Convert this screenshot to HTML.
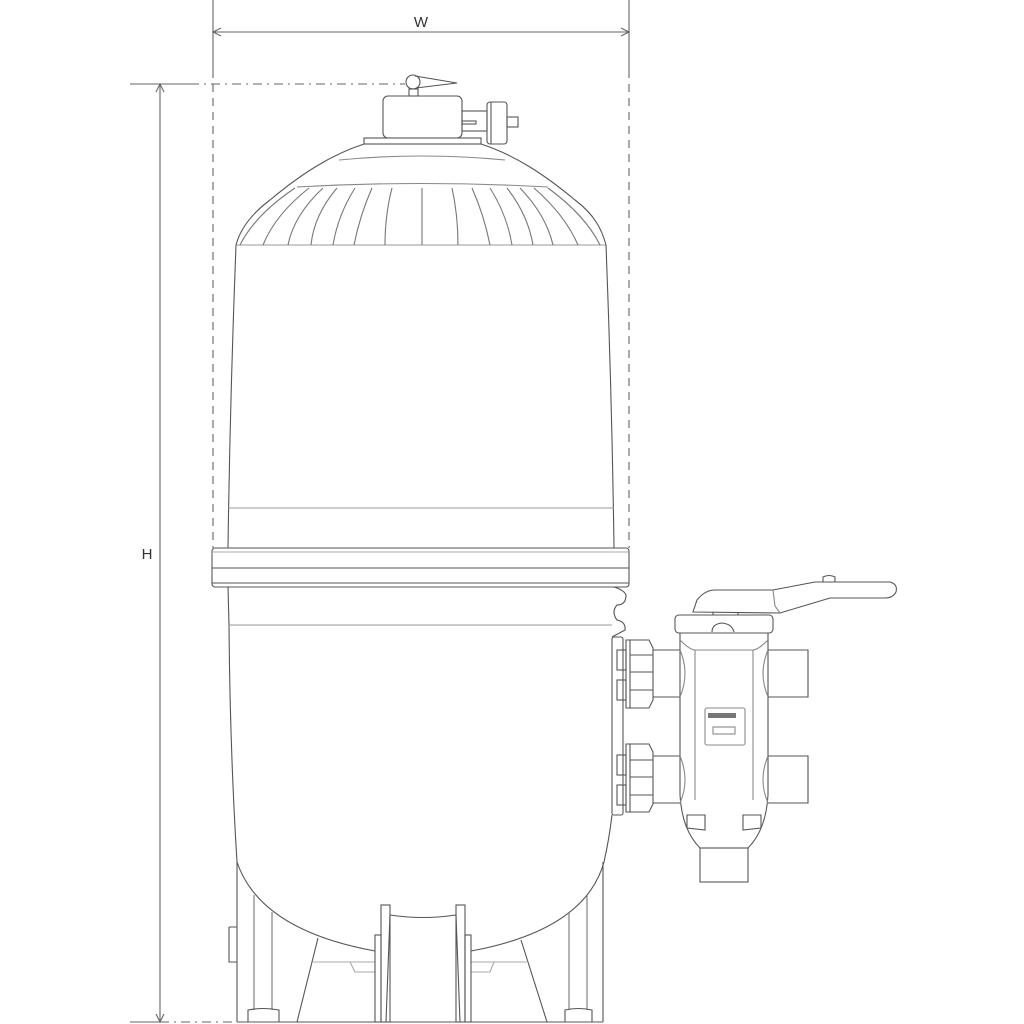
<!DOCTYPE html>
<html><head><meta charset="utf-8"><style>
html,body{margin:0;padding:0;background:#fff;width:1024px;height:1024px;overflow:hidden}
svg{display:block}
text{font-family:"Liberation Sans",sans-serif}
</style></head><body>
<svg width="1024" height="1024" viewBox="0 0 1024 1024" xmlns="http://www.w3.org/2000/svg" fill="none" stroke="#555" stroke-width="1.1">
<!-- dimension lines -->
<g stroke="#666">
<line x1="213" y1="0" x2="213" y2="70"/>
<line x1="213" y1="70" x2="213" y2="548" stroke-dasharray="8,6"/>
<line x1="629" y1="0" x2="629" y2="70"/>
<line x1="629" y1="70" x2="629" y2="548" stroke-dasharray="8,6"/>
<line x1="213" y1="32" x2="629" y2="32"/>
<polyline points="221,28 213,32 221,36"/>
<polyline points="621,28 629,32 621,36"/>
<line x1="130" y1="84" x2="190" y2="84"/>
<line x1="190" y1="84" x2="405" y2="84" stroke-dasharray="9,5,2,5"/>
<line x1="130" y1="1022" x2="160" y2="1022"/>
<line x1="160" y1="1022" x2="237" y2="1022" stroke-dasharray="9,5,2,5"/>
<line x1="160" y1="84" x2="160" y2="1022"/>
<polyline points="156,92 160,84 164,92"/>
<polyline points="156,1014 160,1022 164,1014"/>
</g>
<text x="421" y="27" font-size="15" fill="#333" stroke="none" text-anchor="middle">W</text>
<text x="147" y="559" font-size="15" fill="#333" stroke="none" text-anchor="middle">H</text>

<!-- top knob -->
<circle cx="413" cy="82" r="7"/>
<path d="M415,76 L457,83 L416,88"/>
<rect x="409" y="89" width="9" height="7"/>
<rect x="383" y="96" width="79" height="42" rx="5"/>
<rect x="462" y="111" width="25" height="20"/>
<rect x="462" y="121" width="14" height="3"/>
<rect x="487" y="102" width="20" height="42" rx="3"/>
<line x1="491" y1="102" x2="491" y2="144"/>
<rect x="507" y="117" width="11" height="10"/>
<rect x="364" y="138" width="117" height="6"/>
<!-- dome -->
<path d="M364,144 C330,155 300,175 270,200 C250,215 240,230 236,245"/>
<path d="M481,144 C515,155 545,175 575,200 C595,215 602,230 606,245"/>
<path d="M339,160 Q422,152 505,160" stroke="#888"/>
<path d="M297,187 Q422,180 548,187" stroke="#888"/>
<line x1="236" y1="245" x2="606" y2="245" stroke="#999"/>
<g stroke="#777">
<path d="M295,188 Q255,215 240,245"/><path d="M309,188 Q275,215 263,245"/><path d="M323,188 Q294,215 288,245"/>
<path d="M337,188 Q314,215 311,245"/><path d="M355,188 Q338,215 333,245"/><path d="M372,188 Q360,215 354,245"/>
<path d="M392,188 Q385,215 385,245"/><line x1="422" y1="188" x2="422" y2="245"/>
<path d="M452,188 Q458,215 458,245"/><path d="M472,188 Q484,215 490,245"/><path d="M490,188 Q507,215 512,245"/>
<path d="M507,188 Q528,215 533,245"/><path d="M520,188 Q546,215 553,245"/><path d="M534,188 Q565,215 578,245"/>
<path d="M548,188 Q585,215 600,245"/>
</g>
<!-- upper body -->
<path d="M236,245 Q230,400 228,548"/>
<path d="M606,245 Q612,400 614,548"/>
<line x1="228" y1="508" x2="614" y2="508" stroke="#999"/>
<!-- band -->
<rect x="212" y="548" width="417" height="39" rx="3"/>
<line x1="212" y1="552" x2="629" y2="552" stroke="#aaa"/>
<line x1="212" y1="568" x2="629" y2="568"/>
<line x1="212" y1="583" x2="629" y2="583"/>
<!-- lower body -->
<path d="M228,587 L229,625 Q230,750 237,862"/>
<path d="M614,587 Q624,590 626,595 Q626,605 617,605 Q611,612 617,620 Q626,622 625,630 L612,637"/>
<line x1="229" y1="625" x2="612" y2="625" stroke="#999"/>
<path d="M612,815 Q609,840 604,862"/>
<path d="M237,862 Q260,930 375,951"/>
<path d="M604,862 Q585,930 471,951"/>
<!-- legs -->
<line x1="237" y1="862" x2="237" y2="1022"/>
<line x1="254" y1="895" x2="254" y2="1010" stroke="#777"/>
<line x1="272" y1="912" x2="272" y2="1010" stroke="#777"/>
<path d="M248,1022 L248,1010 Q263,1007 279,1010 L279,1022"/>
<line x1="318" y1="938" x2="297" y2="1022"/>
<path d="M229,927 L237,927 M229,927 L229,962 L237,962"/>
<line x1="603" y1="862" x2="603" y2="1022"/>
<line x1="587" y1="895" x2="587" y2="1010" stroke="#777"/>
<line x1="569" y1="912" x2="569" y2="1010" stroke="#777"/>
<path d="M565,1022 L565,1010 Q578,1007 592,1010 L592,1022"/>
<line x1="521" y1="940" x2="547" y2="1022"/>
<line x1="237" y1="1022" x2="603" y2="1022"/>
<g stroke="#aaa">
<path d="M313,962 L375,962 M350,962 L355,972 L375,972"/>
<path d="M471,962 L528,962 M494,962 L490,972 L471,972"/>
</g>
<!-- center pump piece -->
<rect x="381" y="905" width="9" height="117"/>
<rect x="375" y="935" width="6" height="87"/>
<rect x="456" y="905" width="9" height="117"/>
<rect x="465" y="935" width="6" height="87"/>
<path d="M390,915 Q423,920 456,915"/>
<line x1="390" y1="915" x2="386" y2="1022"/>
<line x1="456" y1="915" x2="460" y2="1022"/>

<!-- valve left connections -->
<rect x="612" y="637" width="11" height="178" rx="2"/>
<rect x="617" y="650" width="9" height="20"/><rect x="617" y="680" width="9" height="20"/>
<rect x="617" y="755" width="9" height="20"/><rect x="617" y="785" width="9" height="20"/>
<g>
<path d="M626,640 L649,640 L653,648 L653,700 L649,708 L626,708 Z"/>
<line x1="630" y1="640" x2="630" y2="708"/>
<line x1="630" y1="655" x2="653" y2="655"/><line x1="630" y1="672" x2="653" y2="672"/><line x1="630" y1="690" x2="653" y2="690"/>
<path d="M626,744 L649,744 L653,752 L653,804 L649,812 L626,812 Z"/>
<line x1="630" y1="744" x2="630" y2="812"/>
<line x1="630" y1="760" x2="653" y2="760"/><line x1="630" y1="777" x2="653" y2="777"/><line x1="630" y1="795" x2="653" y2="795"/>
</g>
<line x1="653" y1="650" x2="680" y2="650"/><line x1="653" y1="697" x2="680" y2="697"/>
<line x1="653" y1="756" x2="680" y2="756"/><line x1="653" y1="803" x2="680" y2="803"/>
<!-- valve body -->
<rect x="675" y="615" width="98" height="18" rx="4"/>
<path d="M712,632 Q712,624 722,623 Q732,624 734,632"/>
<path d="M680,633 L680,795 Q682,830 700,848 L748,848 Q766,830 768,795 L768,633"/>
<path d="M680,640 Q690,650 695,650 L753,650 Q758,650 768,640" stroke="#888"/>
<path d="M695,650 L695,800 M753,650 L753,800" stroke="#888"/>
<path d="M680,650 Q690,673 680,697 M768,650 Q758,673 768,697" stroke="#888"/>
<path d="M680,756 Q690,780 680,803 M768,756 Q758,780 768,803" stroke="#888"/>
<path d="M687,828 L687,815 L705,815 L705,830 Z"/>
<path d="M743,830 L743,815 L761,815 L761,828 Z"/>
<rect x="700" y="848" width="48" height="34"/>
<rect x="705" y="708" width="40" height="37" rx="2" stroke="#888"/>
<rect x="708" y="713" width="28" height="5" fill="#777" stroke="none"/>
<rect x="713" y="727" width="22" height="7" stroke="#888"/>
<!-- right pipes -->
<path d="M768,650 L808,650 L808,697 L768,697"/>
<path d="M768,756 L808,756 L808,803 L768,803"/>
<!-- handle -->
<path d="M693,612 L697,600 Q705,590 715,590 L773,590 L815,582 L890,582 Q898,584 896,592 Q893,598 885,598 L830,598 L780,613 Z"/>
<path d="M773,590 L775,606 L780,613" stroke="#888"/>
<path d="M823,582 L823,577 Q829,574 835,577 L835,582"/>
<line x1="713" y1="612" x2="713" y2="615"/><line x1="738" y1="612" x2="738" y2="615"/>
</svg>
</body></html>
